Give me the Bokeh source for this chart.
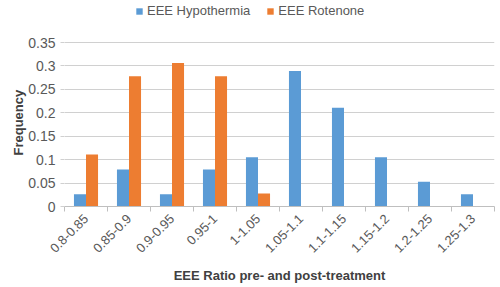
import numpy as np
from bokeh.plotting import figure
from bokeh.models import ColumnDataSource, Range1d, FixedTicker, Legend, LegendItem, Title
from bokeh.embed import file_html
from bokeh.resources import INLINE

categories = ["0.8-0.85", "0.85-0.9", "0.9-0.95", "0.95-1", "1-1.05",
              "1.05-1.1", "1.1-1.15", "1.15-1.2", "1.2-1.25", "1.25-1.3"]
hypothermia = [0.026, 0.079, 0.026, 0.079, 0.105, 0.289, 0.211, 0.105, 0.053, 0.026]
rotenone = [0.111, 0.278, 0.306, 0.278, 0.028, 0, 0, 0, 0, 0]
y_ticks = [0, 0.05, 0.1, 0.15, 0.2, 0.25, 0.3, 0.35]
y_labels = ["0", "0.05", "0.1", "0.15", "0.2", "0.25", "0.3", "0.35"]
series_names = ["EEE Hypothermia", "EEE Rotenone"]

FONT = "Liberation Sans"
TXT = "#595959"
BLUE = "#5B9BD5"
ORANGE = "#ED7D31"
GRID = "#D0D0D0"

idx = np.arange(len(categories))
centers = idx + 0.5
off = 0.14
bw = 0.28

src = ColumnDataSource(dict(xb=centers - off, xo=centers + off,
                            hyp=hypothermia, rot=rotenone))

# frame spans the full top so the legend (inside the frame) sits above the 0.35 gridline
FRAME_TOP_EXTRA = 206.0 / 164.0
p = figure(width=500, height=287, output_backend="svg", toolbar_location=None,
           x_range=Range1d(0, len(categories)),
           y_range=Range1d(0, y_ticks[-1] * FRAME_TOP_EXTRA),
           min_border_left=64, min_border_right=6, min_border_top=0,
           min_border_bottom=81)
p.outline_line_color = None
p.background_fill_color = "white"

rb = p.vbar(x="xb", top="hyp", width=bw, source=src, fill_color=BLUE, line_color=None)
ro = p.vbar(x="xo", top="rot", width=bw, source=src, fill_color=ORANGE, line_color=None)

# x axis
p.xgrid.grid_line_color = None
p.xaxis.ticker = FixedTicker(ticks=list(centers), minor_ticks=list(range(len(categories) + 1)))
p.xaxis.major_label_overrides = {float(c): cat for c, cat in zip(centers, categories)}
p.xaxis.major_label_orientation = np.pi / 4
p.xaxis.major_tick_line_color = None
p.xaxis.minor_tick_line_color = "#BFBFBF"
p.xaxis.minor_tick_out = 5
p.xaxis.minor_tick_in = 0
p.xaxis.axis_line_color = "#BFBFBF"
p.xaxis.major_label_text_font = FONT
p.xaxis.major_label_text_font_size = "13px"
p.xaxis.major_label_text_color = TXT
p.xaxis.major_label_standoff = 4
p.xaxis.axis_label = "EEE Ratio pre- and post-treatment"
p.xaxis.axis_label_text_font = FONT
p.xaxis.axis_label_text_font_size = "13px"
p.xaxis.axis_label_text_font_style = "bold"
p.xaxis.axis_label_text_color = "#404040"
p.xaxis.axis_label_standoff = 8

# y axis
p.yaxis.ticker = FixedTicker(ticks=y_ticks)
p.yaxis.major_label_overrides = {t: l for t, l in zip(y_ticks, y_labels)}
p.yaxis.axis_line_color = None
p.yaxis.major_tick_line_color = GRID
p.yaxis.major_tick_out = 4
p.yaxis.major_tick_in = 0
p.yaxis.minor_tick_line_color = None
p.yaxis.major_label_text_font = FONT
p.yaxis.major_label_text_font_size = "14px"
p.yaxis.major_label_text_color = TXT
p.yaxis.major_label_standoff = 5
p.ygrid.grid_line_color = GRID
p.ygrid.grid_line_width = 1

# y axis title, centred on the 0..0.35 span (frame extends above it)
ytitle = Title(text="Frequency", align="left", offset=51,
               text_font=FONT, text_font_size="13px", text_font_style="bold",
               text_color="#404040", standoff=0)
p.add_layout(ytitle, "left")

legend = Legend(items=[LegendItem(label=series_names[0], renderers=[rb]),
                       LegendItem(label=series_names[1], renderers=[ro])],
                orientation="horizontal", location=(71, 188),
                glyph_width=8, glyph_height=8, label_standoff=4, spacing=16,
                label_text_font=FONT, label_text_font_size="13px",
                label_text_color=TXT, border_line_color=None,
                background_fill_alpha=0, padding=0, margin=0)
p.add_layout(legend)

open("out.html", "w").write(file_html(p, INLINE))
